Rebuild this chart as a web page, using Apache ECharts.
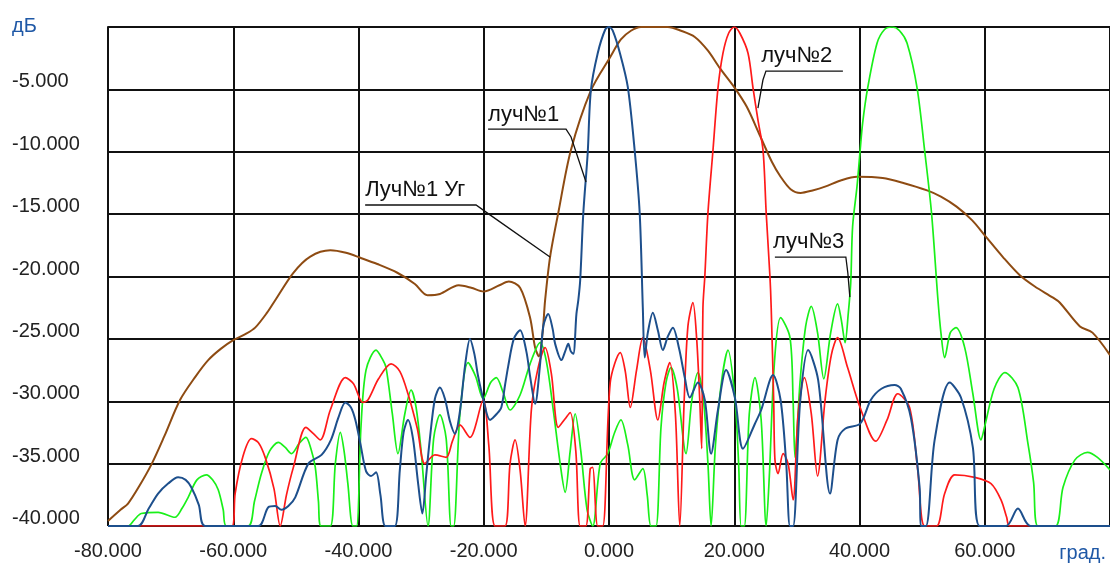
<!DOCTYPE html>
<html>
<head>
    <meta charset="UTF-8">
    <title>Диаграммы направленности</title>
    <script src="https://cdn.jsdelivr.net/npm/echarts@6/dist/echarts.min.js"></script>
    <style>
        html, body { margin: 0; padding: 0; background: #fff; }
        #chart { width: 1110px; height: 565px; }
    </style>
</head>
<body>
<div id="chart"></div>
<script>
// углы (град.) и уровни (дБ); всё ниже -40 лежит на -40
var xTicks = [-80, -60, -40, -20, 0, 20, 40, 60, 80];
var yTicks = [-40, -35, -30, -25, -20, -15, -10, -5, 0];

var luch1Ug = [[-80,-39.6],[-78,-38.7],[-76.8,-38.2],[-75,-36.8],[-73,-35.0],[-71,-32.8],[-68.5,-29.9],[-66,-28.0],
    [-64,-26.7],[-62,-25.8],[-60,-25.1],[-58,-24.6],[-56.5,-24.1],[-54.6,-22.9],[-53.3,-21.9],[-50.4,-19.7],
    [-47.7,-18.4],[-44.5,-17.9],[-42,-18.1],[-39.7,-18.5],[-37,-19.0],[-33.8,-19.7],[-31,-20.6],[-29,-21.5],
    [-27,-21.4],[-24,-20.7],[-22,-20.9],[-20,-21.2],[-17.5,-20.7],[-16,-20.4],[-14.2,-20.9],[-12.6,-23.3],
    [-11.8,-25.7],[-11.2,-26.4],[-10.6,-24.5],[-10.2,-21.9],[-9.4,-18.4],[-8.1,-14.9],[-6.1,-9.9],[-2.9,-5.1],
    [0.2,-2.4],[1.9,-1.0],[3.5,-0.3],[5.1,0],[7.3,0],[9.4,0],[11.5,-0.3],[13.7,-0.8],[15.8,-1.9],[17.7,-3.3],
    [20.1,-4.9],[22,-6.4],[24.1,-8.7],[26,-10.8],[27.4,-12.0],[29,-13.0],[30.6,-13.3],[32.5,-13.1],[34.5,-12.8],
    [37,-12.3],[39.6,-12.0],[43.7,-12.1],[47,-12.5],[50.8,-13.1],[53,-13.6],[55.5,-14.4],[58,-15.5],[60,-16.7],
    [63,-18.5],[65.6,-19.9],[68,-20.8],[70.9,-21.7],[72,-22.1],[75.2,-24.0],[77.2,-24.5],[80,-26.3]];

var luch1 = [[-80,-40],[-75.2,-40],[-73.5,-38.6],[-72,-37.4],[-70.4,-36.6],[-68.8,-36.1],[-67.6,-36.3],[-66.7,-36.9],
    [-65.5,-38.3],[-64.5,-40],[-56,-40],[-54.4,-38.5],[-53.3,-38.4],[-52.3,-38.7],[-51.2,-38.4],[-50.1,-37.7],
    [-48,-35.0],[-45.9,-34.3],[-44.4,-33.1],[-43.2,-31.3],[-42.1,-30.1],[-41.2,-30.5],[-40.5,-31.5],[-39.7,-33.4],
    [-38.8,-35.6],[-38,-36.0],[-37.2,-35.7],[-36.5,-37.5],[-35.7,-40],[-34.2,-40],[-33.4,-35.5],[-32.8,-32.5],
    [-32.1,-31.5],[-31.3,-33],[-30.5,-36.5],[-29.8,-39],[-29.2,-36],[-28.6,-33],[-27.8,-29.8],[-27,-28.9],
    [-26.2,-29.8],[-25.4,-31.6],[-24.6,-32.6],[-23.8,-30.8],[-23,-27.2],[-22.2,-25.0],[-21.5,-26.2],[-20.9,-28],
    [-20,-30.0],[-19,-31.5],[-17.9,-31.0],[-17.2,-30.5],[-16.6,-28.7],[-16.1,-27.2],[-15.2,-25],[-14.2,-24.3],
    [-13.2,-26],[-12.6,-28],[-11.8,-30.2],[-11,-27],[-10.5,-24],[-9.7,-23.0],[-9,-24.2],[-8.6,-25.4],[-7.6,-26.7],
    [-7,-26],[-6.5,-25.4],[-6.1,-26.0],[-5.7,-26.2],[-5.2,-23],[-4.9,-21.9],[-4.6,-20.3],[-4.1,-14.9],[-3.4,-10.1],
    [-2.9,-5.1],[-1.8,-2.1],[-0.6,-0.2],[0,0],[0.6,-0.3],[1.8,-2.2],[3.0,-4.8],[4.1,-9.9],[4.9,-14.9],[5.4,-22.5],
    [5.7,-26.5],[6.2,-24.5],[7.0,-22.9],[7.8,-24.3],[8.6,-25.9],[9.4,-24.8],[10.2,-24.1],[11.2,-25.8],[12.1,-28.1],
    [12.9,-29.7],[14.2,-28.5],[15.3,-29.9],[16.3,-34.2],[17.4,-30.7],[18.7,-27.5],[20.1,-29.7],[21.4,-33.8],
    [23.3,-31.8],[24.3,-30.7],[26.2,-27.9],[27.4,-29.9],[28.3,-35],[28.9,-40],[29.4,-40],[30.5,-30.2],[31.8,-25.9],
    [33.4,-28.3],[35.3,-37.4],[36.5,-33.1],[37.7,-32.2],[40.1,-31.8],[41.8,-29.9],[43.5,-29.0],[45.6,-28.7],
    [46.6,-29],[48.2,-31.3],[49.6,-36.9],[49.8,-40],[50.6,-40],[52,-33.1],[54.4,-28.5],[56.2,-29.7],[58.1,-33.7],
    [59.2,-40],[63.4,-40],[65.3,-38.6],[67.3,-40],[80,-40]];

var luch2 = [[-80,-40],[-60.2,-40],[-59.7,-37.4],[-58.5,-34.5],[-57.1,-33],[-56,-33.3],[-54.9,-34.5],[-53.5,-37],
    [-52.5,-40],[-51.5,-37.5],[-50.4,-35.3],[-48.4,-32.1],[-47.2,-32.6],[-46.1,-33.1],[-44.5,-30.7],[-42.1,-28.1],
    [-40.8,-28.6],[-39.3,-30.1],[-38.5,-29.9],[-36.8,-28.2],[-34.8,-27],[-33.4,-27.6],[-32.1,-29.4],[-30.6,-32.2],
    [-29.4,-35],[-27.8,-34.3],[-26,-34.5],[-25,-33.2],[-23.8,-31.9],[-22.2,-32.9],[-20.1,-29.9],[-19.2,-33.5],
    [-18.2,-40],[-16.6,-40],[-15.8,-35],[-15,-33.1],[-14.2,-35.5],[-13.4,-40],[-12.4,-30.7],[-11.4,-27.5],
    [-10.2,-25.7],[-9.2,-27.8],[-8.1,-32.1],[-7,-31.4],[-6.2,-30.9],[-5.3,-34],[-4.6,-40],[-3.7,-40],[-3.0,-35.4],
    [-2.6,-35.3],[-1.8,-40],[-1.0,-40],[0.2,-28.5],[1.8,-26.1],[2.6,-27.6],[3.4,-30.5],[4.4,-27.5],[5.4,-24.9],
    [6.6,-27.5],[7.8,-31.5],[8.8,-28.5],[9.7,-26.9],[10.6,-31],[11.3,-40],[12.0,-30],[12.6,-24],[13.4,-22.1],
    [14,-25],[14.5,-30],[14.8,-33.8],[15.0,-22.5],[15.3,-20],[15.8,-14.9],[16.6,-9.9],[17.4,-4.9],[18.2,-2.1],
    [19.1,-0.5],[20,0],[20.9,-0.5],[22.2,-2.1],[23,-4.9],[23.8,-7.5],[24.6,-9.9],[25.1,-14.9],[25.7,-20],
    [25.9,-22.5],[26.3,-30],[26.5,-34.7],[27,-35.8],[27.8,-34.2],[28.6,-35],[29.4,-37.9],[30.2,-31],[31.2,-28.1],
    [32.3,-31],[33.3,-36],[34.5,-29.9],[35.5,-26.3],[36.5,-24.9],[38.1,-27.3],[40.1,-30.5],[42.6,-33.2],
    [44.4,-31.5],[46.1,-29.4],[48,-30.5],[49.3,-35.5],[50.4,-40],[52.3,-40],[53.6,-37.4],[55.2,-35.9],[58.4,-36.1],
    [61,-36.6],[62.6,-37.9],[63.5,-39.3],[64,-40],[80,-40]];

var luch3 = [[-80,-40],[-76.8,-40],[-75.8,-39.5],[-74.7,-39],[-72,-38.9],[-69.3,-39.3],[-68.2,-38.6],[-67.2,-37.7],
    [-65.8,-36.3],[-64.3,-35.9],[-63.3,-36.3],[-62.4,-37.1],[-61.6,-38.7],[-61.1,-40],[-57.6,-40],[-56.6,-38],
    [-55.5,-35.8],[-54.2,-34],[-52.8,-33.3],[-51.7,-33.7],[-50.7,-34.2],[-49.5,-33.4],[-48.4,-32.9],[-47.6,-33.8],
    [-46.9,-35.3],[-46.4,-38],[-46,-40],[-44.5,-40],[-43.7,-35],[-42.9,-32.5],[-42.3,-34],[-41.7,-36.6],[-40.9,-40],
    [-40.3,-40],[-39.6,-32],[-38.8,-27.5],[-37.2,-25.9],[-36.2,-26.6],[-35.6,-27.3],[-34.6,-31],[-33.7,-34.2],
    [-32.6,-31],[-31.6,-29.1],[-30.8,-30.5],[-30,-34],[-28.9,-40],[-28,-33],[-27,-31.1],[-26,-33],[-25.2,-40],
    [-24.8,-40],[-23.8,-31],[-22.5,-26.9],[-21.3,-28],[-20.1,-29.8],[-18.9,-28.5],[-18,-28.1],[-16.9,-29.3],
    [-15.8,-30.7],[-14.2,-29.5],[-12.6,-27],[-11,-25.3],[-10,-26.8],[-8.9,-30.7],[-7.8,-35],[-7,-37.3],[-6.2,-34],
    [-5.4,-31],[-4.5,-34],[-3.5,-38.7],[-2.6,-40],[-1.4,-35],[-0.2,-34.2],[0.9,-32.5],[1.9,-31.5],[3.0,-33.5],
    [4.1,-36.3],[5.4,-35.4],[6.1,-37.5],[6.7,-40],[7.5,-40],[8.3,-32.1],[9.1,-28.5],[9.9,-27.3],[10.9,-29],
    [12.3,-34.2],[13.2,-30],[14.2,-27.7],[15.1,-30],[15.8,-35],[16.3,-40],[17,-33.5],[18,-28.3],[19,-25.9],
    [20.1,-29.7],[20.7,-35],[21.1,-40],[21.6,-40],[22.4,-31],[23.3,-28.1],[24.3,-31.5],[25.1,-40],[25.6,-36],
    [26.4,-27],[27.4,-23.3],[28.9,-24.9],[29.4,-30],[29.7,-34.5],[30.5,-28.5],[31.4,-24],[32.3,-22.4],[33.3,-24.5],
    [34.3,-28.2],[35.4,-24.5],[36.5,-22.2],[37.1,-23.5],[37.7,-25.3],[38.2,-23],[38.6,-20.5],[38.9,-16],[39.6,-12.8],
    [40.1,-9.9],[40.5,-7.7],[41.3,-4.9],[42.8,-1.3],[44,-0.2],[45.2,0],[46.4,-0.3],[47.6,-1.3],[49.2,-4.9],
    [50.4,-9.9],[51.5,-14.9],[52.5,-21.7],[53,-24.5],[53.6,-26.5],[54.5,-24.5],[55.4,-24.1],[56.8,-25.7],
    [58.1,-29.4],[59.4,-33.1],[60,-32],[61.5,-29],[63.2,-27.7],[65.3,-28.9],[66.9,-33.4],[67.8,-36.5],[68.5,-40],
    [71.3,-40],[72.5,-36.9],[74.4,-34.7],[76.4,-34.1],[78,-34.5],[80,-35.5]];

// выноски: подпись и ломаная в координатах графика
var notes = [
    {text: 'луч№1',     at: [-19.31, -7.9],  path: [[-19.31,-8.18],[-6.86,-8.18],[-6.06,-8.82],[-3.67,-12.43]]},
    {text: 'Луч№1 Уг',  at: [-38.94, -13.95], path: [[-38.94,-14.27],[-21.23,-14.27],[-19.63,-14.84],[-9.42,-18.44]]},
    {text: 'луч№2',     at: [24.3, -3.2],   path: [[37.35,-3.53],[25.06,-3.53],[24.58,-4.25],[23.78,-6.5]]},
    {text: 'луч№3',     at: [26.2, -18.1],  path: [[26.49,-18.44],[37.82,-18.44],[38.14,-19.73],[38.46,-21.65]]}
];

var chart = echarts.init(document.getElementById('chart'), null, {renderer: 'canvas'});
var axisFont = 'Liberation Sans, Arial, sans-serif';

function line(name, data, color, width) {
    return {
        name: name, type: 'line', data: data, showSymbol: false, smooth: 0.3,
        lineStyle: {color: color, width: width}, itemStyle: {color: color}, z: 3
    };
}

chart.setOption({
    animation: false,
    backgroundColor: '#fff',
    grid: {left: 108, right: 0, top: 27, bottom: 39, containLabel: false, outerBoundsMode: 'none'},
    xAxis: {
        type: 'value', min: xTicks[0], max: xTicks[xTicks.length - 1], interval: 20,
        axisLine: {show: true, lineStyle: {color: '#111', width: 2}},
        axisTick: {show: false},
        axisLabel: {
            color: '#222', fontSize: 20, fontFamily: axisFont, margin: 15,
            formatter: function (v) { return v === 80 ? '' : v.toFixed(3); }
        },
        splitLine: {show: true, lineStyle: {color: '#111', width: 2}}
    },
    yAxis: {
        type: 'value', min: yTicks[0], max: yTicks[yTicks.length - 1], interval: 5,
        axisLine: {show: true, lineStyle: {color: '#111', width: 2}},
        axisTick: {show: false},
        axisLabel: {
            color: '#222', fontSize: 20, fontFamily: axisFont, margin: 96, align: 'left',
            verticalAlign: 'bottom', lineHeight: 15,
            formatter: function (v) { return v === 0 ? '' : v.toFixed(3); }
        },
        splitLine: {show: true, lineStyle: {color: '#111', width: 2}}
    },
    series: [
        line('Луч№1 Уг', luch1Ug, '#8e4b12', 2),
        line('луч№3', luch3, '#19f019', 1.7),
        line('луч№2', luch2, '#ff1a1a', 1.7),
        line('луч№1', luch1, '#1d4f8c', 2)
    ]
});

// подписи осей и выноски
var g = [
    {type: 'text', left: 12, top: 16, style: {text: 'дБ', fill: '#1f58a6', font: '20px ' + axisFont}},
    {type: 'text', right: 4, top: 543, style: {text: 'град.', fill: '#1f58a6', font: '20px ' + axisFont}}
];
notes.forEach(function (n) {
    var p = chart.convertToPixel({gridIndex: 0}, n.at);
    g.push({type: 'text', x: p[0], y: p[1], z: 10,
        style: {text: n.text, fill: '#111', font: '22px ' + axisFont, textVerticalAlign: 'bottom'}});
    var pts = n.path.map(function (d) { return chart.convertToPixel({gridIndex: 0}, d); });
    g.push({type: 'polyline', z: 10, shape: {points: pts}, style: {stroke: '#111', lineWidth: 1.3, fill: null}});
});
chart.setOption({graphic: g});
</script>
</body>
</html>
